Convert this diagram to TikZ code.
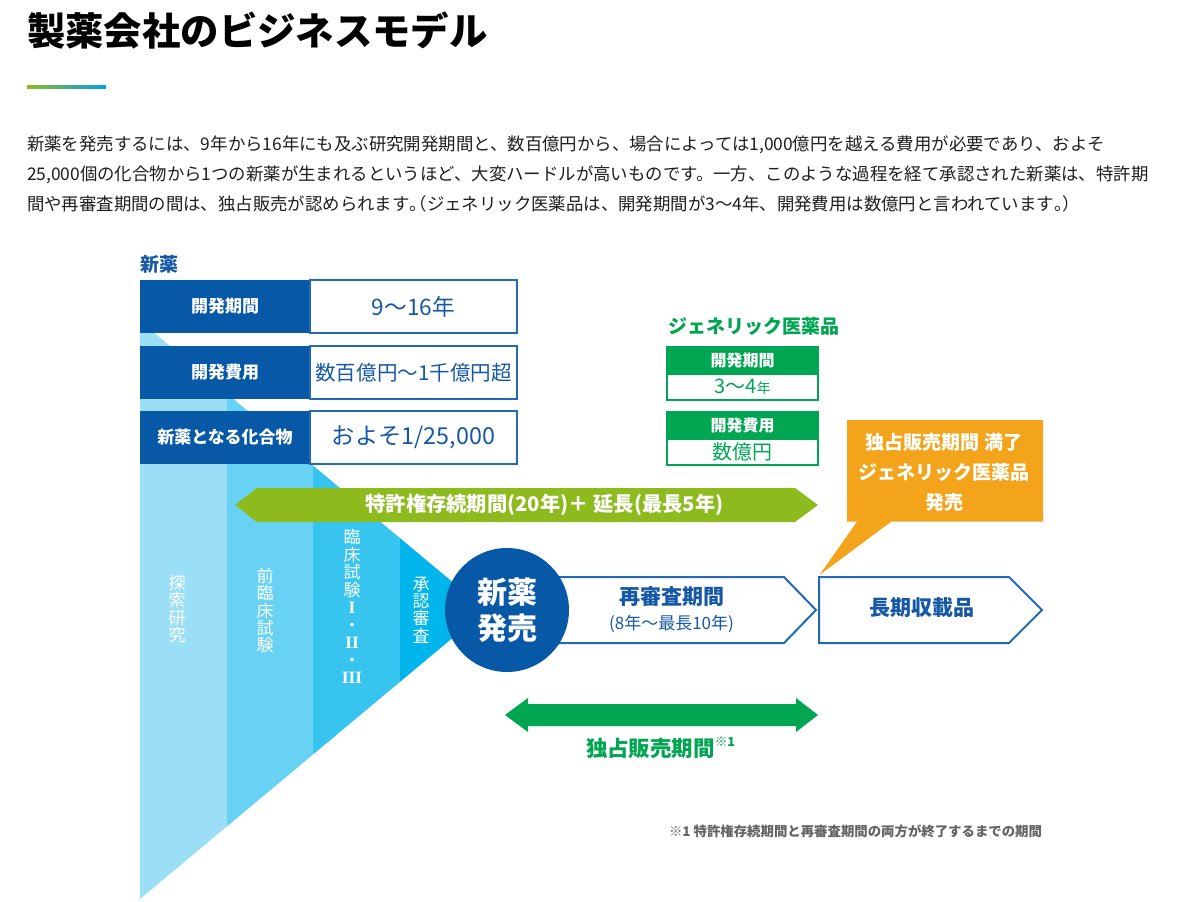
\documentclass[tikz,border=0pt]{standalone}
\usepackage{fontspec}
\setmainfont{Noto Sans CJK JP}
\newfontfamily\romfont{Liberation Serif}
\definecolor{dkblue}{RGB}{8,88,168}
\definecolor{lnblue}{RGB}{35,105,185}
\definecolor{txblue}{RGB}{22,88,165}
\definecolor{bandA}{RGB}{155,223,247}
\definecolor{bandB}{RGB}{104,210,244}
\definecolor{bandC}{RGB}{55,197,240}
\definecolor{bandD}{RGB}{0,181,236}
\definecolor{lime}{RGB}{141,187,30}
\definecolor{gen}{RGB}{0,166,81}
\definecolor{orng}{RGB}{244,164,26}
\definecolor{fgray}{RGB}{100,100,100}
\definecolor{bodytx}{RGB}{30,30,30}
\definecolor{cyanline}{RGB}{0,160,233}
\newcommand{\halt}[1]{{\addfontfeature{RawFeature=+halt}#1}}
\newcommand{\romnum}[1]{{\romfont\bfseries\fontsize{13}{13}\selectfont #1}}
\tikzset{
  txt/.style={inner sep=0pt, outer sep=0pt},
  vt/.style={txt, text=white, align=center, font=\fontsize{12.75}{13.1}\selectfont},
  rowlab/.style={txt, text=white, font=\fontsize{12.75}{14}\selectfont\bfseries},
  rowval/.style={txt, text=txblue},
  para/.style={txt, anchor=west, text=bodytx, font=\fontsize{13.05}{15}\selectfont},
  whitebox/.style={fill=white, draw=lnblue, line width=1.1pt},
  pent/.style={fill=white, draw=lnblue, line width=1.5pt, line join=miter},
  genhead/.style={fill=gen},
  genbody/.style={fill=white, draw=gen, line width=1.5pt},
}
\begin{document}
\begin{tikzpicture}[x=0.75pt,y=-0.75pt]
\useasboundingbox (0,0) rectangle (1200,902);
\fill[white] (0,0) rectangle (1200,902);

% title
\node[txt, anchor=west, text=black, font=\fontsize{28.8}{34}\selectfont\bfseries] (title) at (27,31) {製薬会社のビジネスモデル};
\shade[left color=lime, right color=cyanline] (27,86) rectangle (106,88.5);

% paragraph
\node[para] (p1) at (27,145) {新薬を発売するには、9年から16年にも及ぶ研究開発期間と、数百億円から、場合によっては1,000億円を越える費用が必要であり、およそ};
\node[para] (p2) at (27,174.5) {25,000個の化合物から1つの新薬が生まれるというほど、大変ハードルが高いものです。一方、このような過程を経て承認された新薬は、特許期};
\node[para] (p3) at (27,204) {間や再審査期間の間は、独占販売が認められます\halt{。（}ジェネリック医薬品は、開発期間が3〜4年、開発費用は数億円と言われています\halt{。）}};

% funnel
\begin{scope}
\clip (140,321) -- (486,610) -- (140,899) -- cycle;
\fill[bandA] (140,300) rectangle (226.5,902);
\fill[bandB] (226.5,300) rectangle (313,902);
\fill[bandC] (313,300) rectangle (399.5,902);
\fill[bandD] (399.5,300) rectangle (490,902);
\end{scope}
\node[vt] (b1) at (177,609) {探\\索\\研\\究};
\node[vt] (b2) at (265,610.5) {前\\臨\\床\\試\\験};
\node[vt] (b3) at (352,606.5) {臨\\床\\試\\験\\\romnum{I}\\・\\\romnum{II}\\・\\\romnum{III}};
\node[vt] (b4) at (421,610) {承\\認\\審\\査};

% new drug label
\node[txt, anchor=west, text=txblue, font=\fontsize{14.25}{16}\selectfont\bfseries] (shinyaku) at (140,264) {新薬};

% rows
\fill[dkblue] (140,280) rectangle (310,333);
\draw[whitebox] (310,280) rectangle (517,333);
\fill[dkblue] (140,346) rectangle (310,399);
\draw[whitebox] (310,346) rectangle (517,399);
\fill[dkblue] (140,411) rectangle (310,464);
\draw[whitebox] (310,411) rectangle (517,464);
\node[rowlab] (l1) at (225,306.5) {開発期間};
\node[rowlab] (l2) at (225,372.5) {開発費用};
\node[rowlab] (l3) at (225,437.5) {新薬となる化合物};
\node[rowval, font=\fontsize{17}{18}\selectfont] (v1) at (413.5,306.5) {9〜16年};
\node[rowval, font=\fontsize{15.4}{18}\selectfont] (v2) at (413.5,372.5) {数百億円〜1千億円超};
\node[rowval, font=\fontsize{17.5}{18}\selectfont] (v3) at (413.5,437.5) {およそ1/25,000};

% patent arrow
\fill[lime] (235,505) -- (257,488) -- (795,488) -- (818,505) -- (795,522) -- (257,522) -- cycle;
\node[txt, text=white, font=\fontsize{15.2}{16}\selectfont\bfseries] (patent) at (544.5,505) {特許権存続期間(20年)＋ 延長(最長5年)};

% pentagons
\draw[pent] (545,577) -- (784,577) -- (816,610) -- (784,643) -- (545,643) -- cycle;
\draw[pent] (819,577) -- (1009,577) -- (1042,610) -- (1009,643) -- (819,643) -- cycle;
\node[txt, text=txblue, font=\fontsize{15.75}{18}\selectfont\bfseries] (saishinsa) at (671.5,597) {再審査期間};
\node[txt, text=txblue, font=\fontsize{12.75}{15}\selectfont] (saishinsa2) at (671.5,624) {(8年〜最長10年)};
\node[txt, text=txblue, font=\fontsize{15.75}{18}\selectfont\bfseries] (choki) at (921.5,608) {長期収載品};

% circle
\node[circle, fill=dkblue, minimum size=93pt, inner sep=0pt, text=white, align=center,
  font=\fontsize{22.5}{27.4}\selectfont\bfseries] (launch) at (507,610) {新薬\\発売};

% callout
\fill[orng] (847,420) -- (1043,420) -- (1043,521.7) -- (891,521.7) -- (819.5,575) -- (857,521.7) -- (847,521.7) -- cycle;
\node[txt, text=white, align=center, font=\fontsize{14.25}{22.5}\selectfont\bfseries] (callout) at (944,472) {独占販売期間 満了\\ジェネリック医薬品\\発売};

% generic
\node[txt, anchor=west, text=gen, font=\fontsize{14.25}{16}\selectfont\bfseries] (generic) at (668,326) {ジェネリック医薬品};
\draw[genbody] (667,374) rectangle (818,400);
\fill[genhead] (666.25,346) rectangle (818.75,374);
\draw[genbody] (667,439) rectangle (818,465);
\fill[genhead] (666.25,411) rectangle (818.75,439);
\node[txt, text=white, font=\fontsize{12}{14}\selectfont\bfseries] (g1h) at (742.5,360) {開発期間};
\node[txt, text=gen, font=\fontsize{15}{17}\selectfont] (g1b) at (742.5,387) {3〜4{\fontsize{10.5}{12}\selectfont 年}};
\node[txt, text=white, font=\fontsize{12}{14}\selectfont\bfseries] (g2h) at (742.5,425) {開発費用};
\node[txt, text=gen, font=\fontsize{15}{17}\selectfont] (g2b) at (742.5,452) {数億円};

% exclusive arrow
\fill[gen] (505,715) -- (528,698) -- (528,704) -- (796,704) -- (796,698) -- (818,715) -- (796,732) -- (796,726) -- (528,726) -- (528,732) -- cycle;
\node[txt, anchor=west, text=gen, font=\fontsize{16.1}{18}\selectfont\bfseries] (excl) at (586,748) {独占販売期間\raisebox{0.5em}{\fontsize{9.5}{10}\selectfont ※1}};

% footnote
\node[txt, anchor=west, text=fgray, font=\fontsize{10.05}{12}\selectfont\bfseries] (foot) at (669,831) {※1 特許権存続期間と再審査期間の両方が終了するまでの期間};
\end{tikzpicture}
\end{document}
